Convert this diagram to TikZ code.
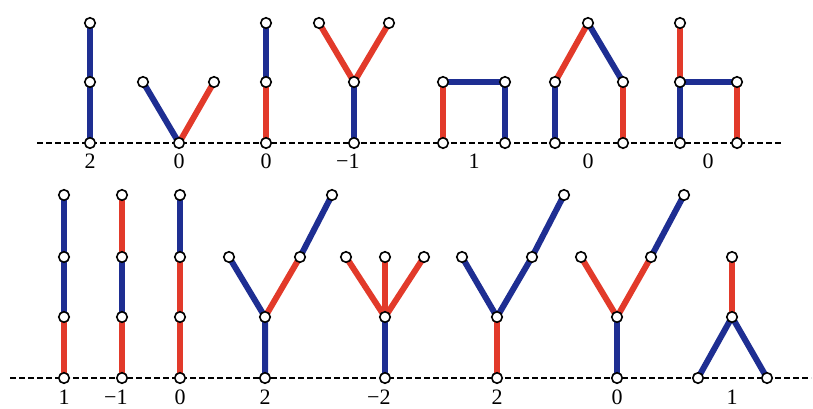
\documentclass[tikz,border=0pt]{standalone}
\usepackage{fontspec}
\setmainfont{Liberation Serif}
\usetikzlibrary{backgrounds}
\definecolor{bluE}{RGB}{30,46,146}
\definecolor{redE}{RGB}{226,58,42}
\tikzset{
  vx/.style={circle, draw=black, fill=white, line width=1.6pt, minimum size=10.5pt, inner sep=0pt},
  bl/.style={draw=bluE, line width=6pt},
  rd/.style={draw=redE, line width=6pt},
  axis/.style={draw=black, line width=1.3pt, dash pattern=on 6pt off 3pt},
  num/.style={font=\fontsize{22}{24}\selectfont, inner sep=0pt}
}
\begin{document}
\begin{tikzpicture}[x=1pt, y=-1pt]
  \useasboundingbox (0,0) rectangle (813,408);
  % top row
  \node[vx] (t1a) at (90,143) {}; \node[vx] (t1b) at (90,82) {}; \node[vx] (t1c) at (90,23) {};
  \node[vx] (t2a) at (179,143) {}; \node[vx] (t2b) at (143,82) {}; \node[vx] (t2c) at (214,82) {};
  \node[vx] (t3a) at (266,143) {}; \node[vx] (t3b) at (266,82) {}; \node[vx] (t3c) at (266,23) {};
  \node[vx] (t4a) at (354,143) {}; \node[vx] (t4b) at (354,82) {}; \node[vx] (t4c) at (319,23) {}; \node[vx] (t4d) at (389,23) {};
  \node[vx] (t5a) at (443,143) {}; \node[vx] (t5b) at (443,82) {}; \node[vx] (t5c) at (505,82) {}; \node[vx] (t5d) at (505,143) {};
  \node[vx] (t6a) at (555,143) {}; \node[vx] (t6b) at (555,82) {}; \node[vx] (t6c) at (588,23) {}; \node[vx] (t6d) at (623,82) {}; \node[vx] (t6e) at (623,143) {};
  \node[vx] (t7a) at (680,143) {}; \node[vx] (t7b) at (680,82) {}; \node[vx] (t7c) at (680,23) {}; \node[vx] (t7d) at (737,82) {}; \node[vx] (t7e) at (737,143) {};
  \coordinate (tL) at (37,143); \coordinate (tR) at (783,143);
  \node[num] (t1n) at (90,161) {2}; \node[num] (t2n) at (179,161) {0}; \node[num] (t3n) at (266,161) {0};
  \node[num] (t4n) at (354,161) {\llap{−}1}; \node[num] (t5n) at (474,161) {1};
  \node[num] (t6n) at (588,161) {0}; \node[num] (t7n) at (708,161) {0};
  % bottom row
  \node[vx] (b1a) at (64,378) {}; \node[vx] (b1b) at (64,317) {}; \node[vx] (b1c) at (64,257) {}; \node[vx] (b1d) at (64,195) {};
  \node[vx] (b2a) at (122,378) {}; \node[vx] (b2b) at (122,317) {}; \node[vx] (b2c) at (122,257) {}; \node[vx] (b2d) at (122,195) {};
  \node[vx] (b3a) at (180,378) {}; \node[vx] (b3b) at (180,317) {}; \node[vx] (b3c) at (180,257) {}; \node[vx] (b3d) at (180,195) {};
  \node[vx] (b4a) at (265,378) {}; \node[vx] (b4b) at (265,317) {}; \node[vx] (b4c) at (229,257) {}; \node[vx] (b4d) at (300,257) {}; \node[vx] (b4e) at (332,195) {};
  \node[vx] (b5a) at (385,378) {}; \node[vx] (b5b) at (385,317) {}; \node[vx] (b5c) at (346,257) {}; \node[vx] (b5d) at (385,257) {}; \node[vx] (b5e) at (424,257) {};
  \node[vx] (b6a) at (497,378) {}; \node[vx] (b6b) at (497,317) {}; \node[vx] (b6c) at (462,257) {}; \node[vx] (b6d) at (532,257) {}; \node[vx] (b6e) at (564,195) {};
  \node[vx] (b7a) at (617,378) {}; \node[vx] (b7b) at (617,317) {}; \node[vx] (b7c) at (581,257) {}; \node[vx] (b7d) at (651,257) {}; \node[vx] (b7e) at (684,195) {};
  \node[vx] (b8a) at (698,378) {}; \node[vx] (b8b) at (767,378) {}; \node[vx] (b8c) at (732,317) {}; \node[vx] (b8d) at (732,257) {};
  \coordinate (bL) at (10,378); \coordinate (bR) at (811,378);
  \node[num] (b1n) at (64,397) {1}; \node[num] (b2n) at (122,397) {\llap{−}1}; \node[num] (b3n) at (180,397) {0};
  \node[num] (b4n) at (265,397) {2}; \node[num] (b5n) at (385,397) {\llap{−}2}; \node[num] (b6n) at (497,397) {2};
  \node[num] (b7n) at (617,397) {0}; \node[num] (b8n) at (732,397) {1};
  % edges behind the vertices
  \begin{scope}[on background layer]
    \draw[axis] (tL) -- (tR); \draw[axis] (bL) -- (bR);
    \draw[bl] (t1a.center) -- (t1b.center) -- (t1c.center);
    \draw[bl] (t2a.center) -- (t2b.center); \draw[rd] (t2a.center) -- (t2c.center);
    \draw[rd] (t3a.center) -- (t3b.center); \draw[bl] (t3b.center) -- (t3c.center);
    \draw[bl] (t4a.center) -- (t4b.center); \draw[rd] (t4c.center) -- (t4b.center) -- (t4d.center);
    \draw[rd] (t5a.center) -- (t5b.center); \draw[bl] (t5b.center) -- (t5c.center) -- (t5d.center);
    \draw[bl] (t6a.center) -- (t6b.center); \draw[rd] (t6b.center) -- (t6c.center);
    \draw[bl] (t6c.center) -- (t6d.center); \draw[rd] (t6d.center) -- (t6e.center);
    \draw[bl] (t7a.center) -- (t7b.center) -- (t7d.center); \draw[rd] (t7b.center) -- (t7c.center); \draw[rd] (t7d.center) -- (t7e.center);
    \draw[rd] (b1a.center) -- (b1b.center); \draw[bl] (b1b.center) -- (b1d.center);
    \draw[rd] (b2a.center) -- (b2b.center); \draw[bl] (b2b.center) -- (b2c.center); \draw[rd] (b2c.center) -- (b2d.center);
    \draw[rd] (b3a.center) -- (b3c.center); \draw[bl] (b3c.center) -- (b3d.center);
    \draw[bl] (b4a.center) -- (b4b.center) -- (b4c.center); \draw[rd] (b4b.center) -- (b4d.center); \draw[bl] (b4d.center) -- (b4e.center);
    \draw[bl] (b5a.center) -- (b5b.center); \draw[rd] (b5c.center) -- (b5b.center) -- (b5e.center); \draw[rd] (b5b.center) -- (b5d.center);
    \draw[rd] (b6a.center) -- (b6b.center); \draw[bl] (b6c.center) -- (b6b.center) -- (b6d.center) -- (b6e.center);
    \draw[bl] (b7a.center) -- (b7b.center); \draw[rd] (b7c.center) -- (b7b.center) -- (b7d.center); \draw[bl] (b7d.center) -- (b7e.center);
    \draw[bl] (b8a.center) -- (b8c.center) -- (b8b.center); \draw[rd] (b8c.center) -- (b8d.center);
  \end{scope}
\end{tikzpicture}
\end{document}
